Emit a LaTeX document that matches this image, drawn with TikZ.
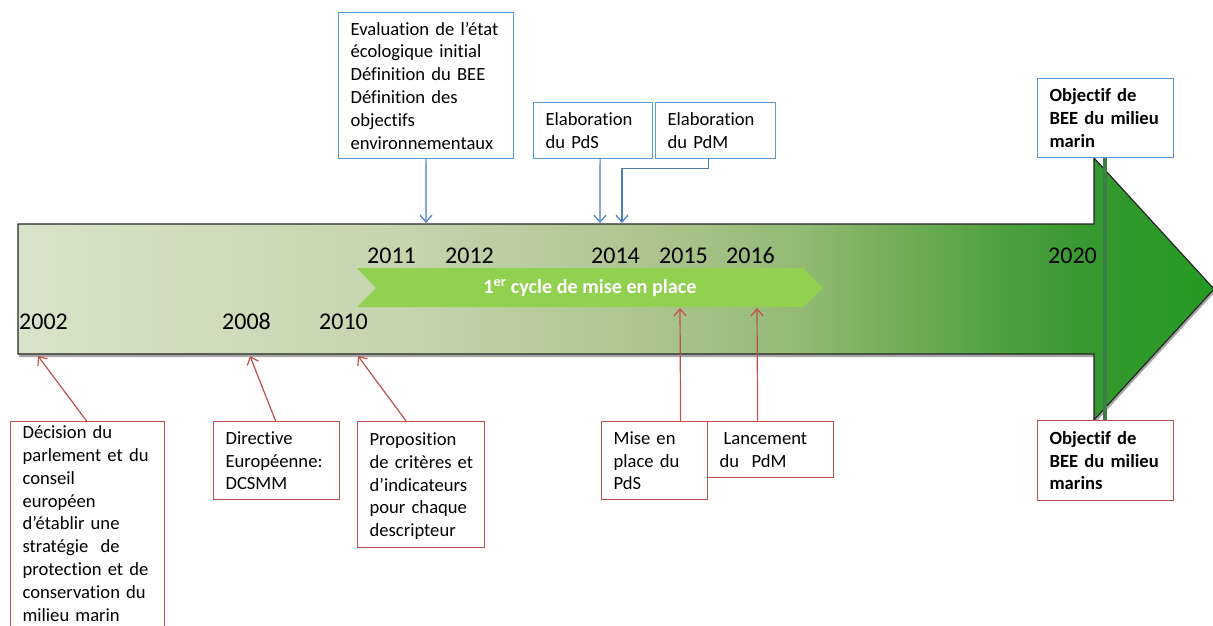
\documentclass[tikz,border=0pt]{standalone}
\usepackage{fontspec}
\setmainfont{Carlito}[Ligatures=NoCommon]
\usetikzlibrary{arrows.meta,shadows}
\definecolor{boxblue}{HTML}{5B9BD5}
\definecolor{lineblue}{HTML}{4A7EBB}
\definecolor{boxred}{HTML}{C0504D}
\definecolor{chev}{HTML}{92D050}
\definecolor{vline}{HTML}{3B7F45}
\definecolor{ga}{HTML}{D7E4CA}
\definecolor{gb}{HTML}{C5D5AE}
\definecolor{gc}{HTML}{ADC48F}
\definecolor{gd}{HTML}{93BA74}
\definecolor{ge}{HTML}{72AD58}
\definecolor{gf}{HTML}{4EA03F}
\definecolor{gg}{HTML}{35992F}
\definecolor{gh}{HTML}{249A22}
\pgfdeclarehorizontalshading{timeline}{100bp}{color(0bp)=(ga); color(25bp)=(ga); color(41bp)=(gb); color(51.4bp)=(gc); color(57.7bp)=(gd); color(61.9bp)=(ge); color(66.1bp)=(gf); color(70bp)=(gg); color(75bp)=(gh); color(100bp)=(gh)}
\newcommand{\boxlines}[1]{\begin{tabular}[t]{@{}l@{}}#1\end{tabular}}
\tikzset{
  bx/.style={draw, line width=1.2pt, anchor=north west, inner xsep=12pt, inner ysep=0pt, fill=white, text height=20pt, font=\fontsize{18.6}{22.8}\selectfont},
  bluebox/.style={bx, draw=boxblue},
  redbox/.style={bx, draw=boxred},
  year/.style={anchor=base west, inner sep=0pt, font=\fontsize{24}{28}\selectfont},
  barbarrow/.style={-{Straight Barb[length=7pt,width=12pt]}, line width=1.2pt},
  blueline/.style={barbarrow, lineblue},
  redline/.style={barbarrow, boxred},
}
\begin{document}
\begin{tikzpicture}[x=1pt,y=-1pt]
\clip (0,0) rectangle (1213,626);
\fill[white] (0,0) rectangle (1213,626);
% main arrow
\path[shading=timeline, draw=black!85, line width=1.2pt,
  drop shadow={shadow xshift=1pt, shadow yshift=-3pt, opacity=0.35, fill=black}]
  (18,224) -- (1094,224) -- (1094,158) -- (1214,289) -- (1094,420) -- (1094,354) -- (18,354) -- cycle;
% chevron
\fill[chev] (357,268) -- (803,268) -- (823,288) -- (803,307) -- (357,307) -- (376,288) -- cycle;
\node[text=white, font=\bfseries\fontsize{20.2}{24}\selectfont, inner sep=0pt] (cyc) at (590,288) {1\textsuperscript{er} cycle de mise en place};
% years
\node[year] (y2002) at (19,329) {2002};
\node[year] (y2008) at (222,329) {2008};
\node[year] (y2010) at (319,329) {2010};
\node[year] (y2011) at (367,263) {2011};
\node[year] (y2012) at (445,263) {2012};
\node[year] (y2014) at (591,263) {2014};
\node[year] (y2015) at (659,263) {2015};
\node[year] (y2016) at (726,263) {2016};
\node[year] (y2020) at (1048,263) {2020};
% vertical line
\coordinate (vl) at (1105,0);
% boxes top
\node[bluebox, text width=151pt, minimum height=146pt] (A) at (338,12) {\boxlines{Evaluation de l’état\\écologique initial\\Définition du BEE\\Définition des\\objectifs\\environnementaux}};
\node[bluebox, text width=95pt, minimum height=56pt] (B) at (533,102) {\boxlines{Elaboration\\du PdS}};
\node[bluebox, text width=96pt, minimum height=56pt] (C) at (655,102) {\boxlines{Elaboration\\du PdM}};
\node[bluebox, text width=112pt, minimum height=79pt, font=\bfseries\fontsize{18.6}{22.8}\selectfont] (TR) at (1037,78) {\boxlines{Objectif de\\BEE du milieu\\marin}};
% boxes bottom
\node[redbox, text width=130pt, text height=17pt, minimum height=205pt] (D) at (10,421) {\boxlines{Décision du\\parlement et du\\conseil\\européen\\d’établir une\\stratégie\ \ de\\protection et de\\conservation du\\milieu marin}};
\node[redbox, text width=102pt, minimum height=78pt] (E) at (213,421) {\boxlines{Directive\\Européenne:\\DCSMM}};
\node[redbox, text width=103pt, minimum height=126pt] (F) at (357,421) {\boxlines{Proposition\\de critères et\\d’indicateurs\\pour chaque\\descripteur}};
\node[redbox, text width=102pt, minimum height=56pt] (H) at (707,421) {\boxlines{\hspace{4pt}Lancement\\du\ \ PdM}};
\node[redbox, text width=82pt, minimum height=78pt] (G) at (601,421) {\boxlines{Mise en\\place du\\PdS}};
\node[redbox, text width=112pt, minimum height=80pt, font=\bfseries\fontsize{18.6}{22.8}\selectfont] (BR) at (1037,420) {\boxlines{Objectif de\\BEE du milieu\\marins}};
\draw[vline, line width=4pt] (TR.south -| vl) -- (BR.north -| vl);
% connector end points
\coordinate (tA) at (426,223);
\coordinate (tB) at (600,223);
\coordinate (tC) at (622,223);
\coordinate (tD) at (38,356);
\coordinate (tE) at (250,356);
\coordinate (tF) at (358,356);
\coordinate (tG) at (680,308);
\coordinate (tH) at (757,308);
\draw[blueline] (A.south) -- (tA);
\draw[blueline] ([xshift=7pt]B.south) -- (tB);
\draw[blueline] ([xshift=-7pt]C.south) -- ++(0,9) -| (tC);
\draw[redline] ([xshift=-1pt]D.north) -- (tD);
\draw[redline] ([xshift=-1pt]E.north) -- (tE);
\draw[redline] ([xshift=-15pt]F.north) -- (tF);
\draw[redline] ([xshift=26pt]G.north) -- (tG);
\draw[redline] ([xshift=-13pt]H.north) -- (tH);
\end{tikzpicture}
\end{document}
